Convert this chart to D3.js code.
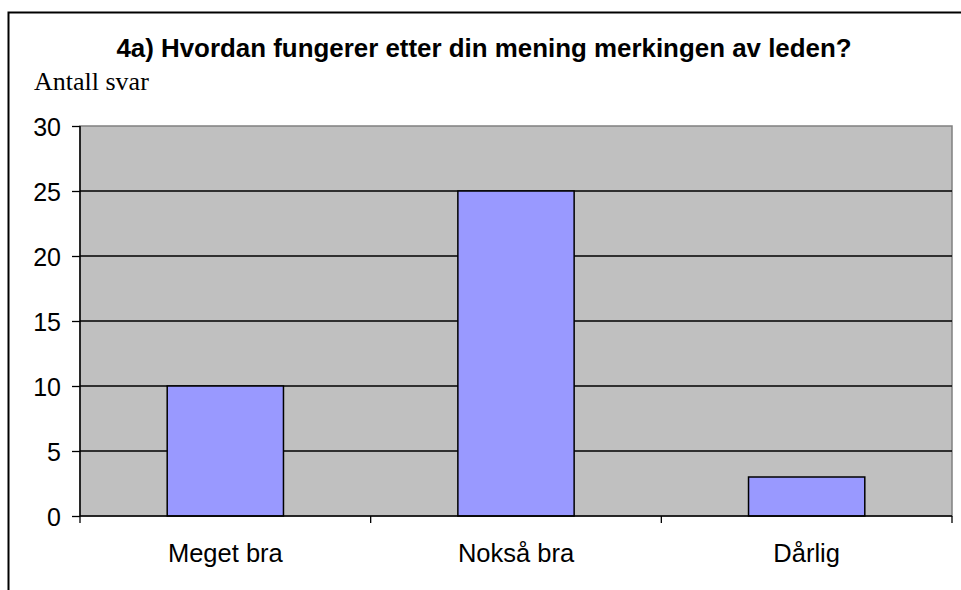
<!DOCTYPE html>
<html><head><meta charset="utf-8">
<script src="https://cdn.jsdelivr.net/npm/d3@7"></script>
<style>body{margin:0;background:#fff}svg{display:block}</style>
</head><body>
<svg id="c" width="961" height="590"></svg>
<script>
const categories = ["Meget bra", "Nokså bra", "Dårlig"];
const values = [10, 25, 3];
const yTicks = [0, 5, 10, 15, 20, 25, 30];
const title = "4a) Hvordan fungerer etter din mening merkingen av leden?";
const yTitle = "Antall svar";

const svg = d3.select("#c");
const m = {left: 80, top: 126, right: 952, bottom: 516};
const sans = "Liberation Sans, Arial, sans-serif";

svg.append("rect").attr("x", 8.5).attr("y", 12.5).attr("width", 1000).attr("height", 1000)
  .attr("fill", "#fff").attr("stroke", "#000").attr("stroke-width", 2);

const x = d3.scaleBand().domain(categories).range([m.left, m.right]).paddingInner(0).paddingOuter(0);
const y = d3.scaleLinear().domain([0, 30]).range([m.bottom, m.top]);

svg.append("rect").attr("x", m.left).attr("y", m.top).attr("width", m.right - m.left).attr("height", m.bottom - m.top)
  .attr("fill", "#c0c0c0").attr("stroke", "#808080").attr("stroke-width", 1.5);

svg.append("g").selectAll("line").data(yTicks.filter(t => t > 0 && t < 30)).join("line")
  .attr("x1", m.left).attr("x2", m.right).attr("y1", d => y(d)).attr("y2", d => y(d))
  .attr("stroke", "#000").attr("stroke-width", 1.3);

const bw = x.bandwidth() * 0.4;
svg.append("g").selectAll("rect").data(values).join("rect")
  .attr("x", (d, i) => x(categories[i]) + (x.bandwidth() - bw) / 2)
  .attr("y", d => y(d)).attr("width", bw).attr("height", d => y(0) - y(d))
  .attr("fill", "#9999ff").attr("stroke", "#000").attr("stroke-width", 1.5);

const ya = svg.append("g").attr("transform", `translate(${m.left},0)`)
  .call(d3.axisLeft(y).tickValues(yTicks).tickSize(8).tickPadding(11).tickFormat(d3.format("d")));
ya.select(".domain").attr("stroke", "#000").attr("stroke-width", 1.5).attr("d", `M0,${m.top}V${m.bottom}`);
ya.selectAll(".tick line").attr("stroke", "#000").attr("stroke-width", 1.3);
ya.selectAll("text").attr("font-family", sans).attr("font-size", 25).attr("fill", "#000").attr("dy", "0.36em");

const xa = svg.append("g").attr("transform", `translate(0,${m.bottom})`)
  .call(d3.axisBottom(x).tickSize(0).tickPadding(0));
xa.select(".domain").remove();
xa.selectAll("text").attr("font-family", sans).attr("font-size", 25.5).attr("fill", "#000")
  .attr("dy", null).attr("y", 46);
svg.append("line").attr("x1", m.left).attr("x2", m.right).attr("y1", m.bottom).attr("y2", m.bottom)
  .attr("stroke", "#000").attr("stroke-width", 1.5);
const edges = categories.map(c => x(c)).concat([m.right]);
svg.append("g").selectAll("line").data(edges).join("line")
  .attr("x1", d => d).attr("x2", d => d).attr("y1", m.bottom).attr("y2", m.bottom + 7)
  .attr("stroke", "#000").attr("stroke-width", 1.3);

svg.append("text").attr("x", 484).attr("y", 57).attr("text-anchor", "middle")
  .attr("font-family", sans).attr("font-weight", "bold").attr("font-size", 25.9)
  .text(title);
svg.append("text").attr("x", 34).attr("y", 90)
  .attr("font-family", "Liberation Serif, Times New Roman, serif").attr("font-size", 26)
  .text(yTitle);
</script>
</body></html>
